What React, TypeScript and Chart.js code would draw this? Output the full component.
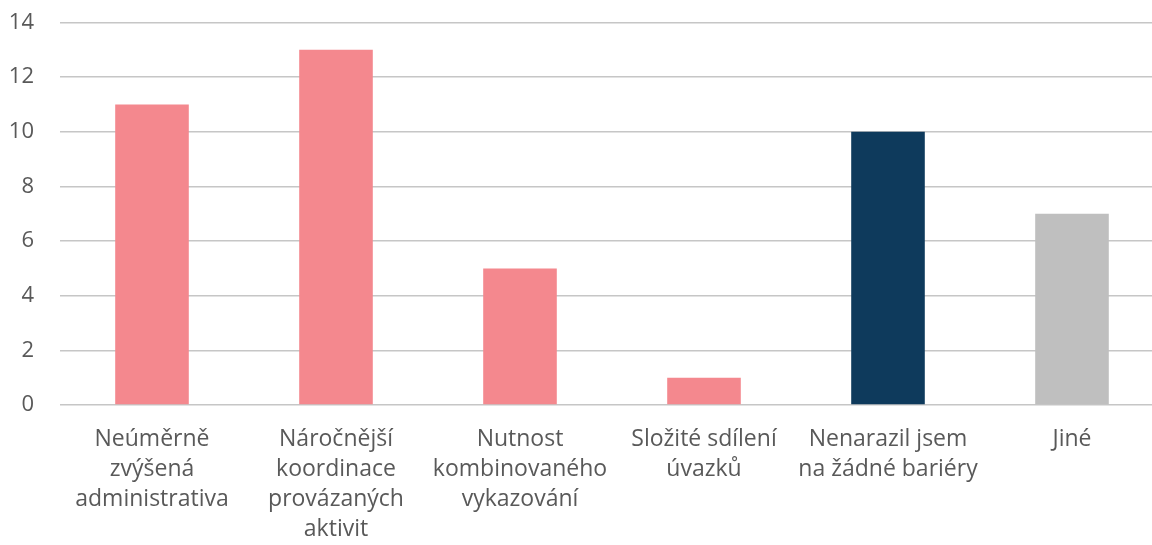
import React, { useEffect, useRef } from "react";
import { Chart, registerables } from "chart.js";

Chart.register(...registerables);

const categories: string[][] = [
  ["Neúměrně", "zvýšená", "administrativa"],
  ["Náročnější", "koordinace", "provázaných", "aktivit"],
  ["Nutnost", "kombinovaného", "vykazování"],
  ["Složité sdílení", "úvazků"],
  ["Nenarazil jsem", "na žádné bariéry"],
  ["Jiné"],
];
const values: number[] = [11, 13, 5, 1, 10, 7];
const barColors: string[] = ["#F4888E", "#F4888E", "#F4888E", "#F4888E", "#0E3A5C", "#BFBFBF"];
const yMin = 0;
const yMax = 14;
const yStep = 2;

export default function App() {
  const ref = useRef<HTMLCanvasElement | null>(null);
  useEffect(() => {
    if (!ref.current) return;
    const chart = new Chart(ref.current, {
      type: "bar",
      data: {
        labels: categories,
        datasets: [
          {
            data: values,
            backgroundColor: barColors,
            borderWidth: 0,
            categoryPercentage: 1,
            barPercentage: 0.4,
          },
        ],
      },
      options: {
        responsive: false,
        animation: false,
        devicePixelRatio: 1,
        layout: { padding: { top: 22.5, right: 0, bottom: 0, left: 0 } },
        plugins: { legend: { display: false }, tooltip: { enabled: false } },
        scales: {
          x: {
            grid: { display: false, drawTicks: false },
            border: { display: false },
            ticks: {
              color: "#595959",
              font: { family: "'Open Sans'", size: 23, lineHeight: 1.3 },
              padding: 20,
              maxRotation: 0,
              autoSkip: false,
            },
            afterFit: (s: any) => {
              s.height = 140;
            },
          },
          y: {
            min: yMin,
            max: yMax,
            grid: { color: "#C6C6C6", lineWidth: 1.5, drawTicks: false },
            border: { display: false },
            ticks: {
              stepSize: yStep,
              color: "#595959",
              font: { family: "'Open Sans'", size: 22 },
              padding: 26,
            },
            afterFit: (s: any) => {
              s.width = 60;
              s.paddingTop = 0;
              s.paddingBottom = 0;
            },
          },
        },
      },
    });
    return () => chart.destroy();
  }, []);
  return (
    <div style={{ position: "fixed", left: 0, top: 0, width: 1152, height: 545, overflow: "hidden", background: "#fff" }}>
      <canvas ref={ref} width={1164} height={545} style={{ display: "block" }} />
    </div>
  );
}
